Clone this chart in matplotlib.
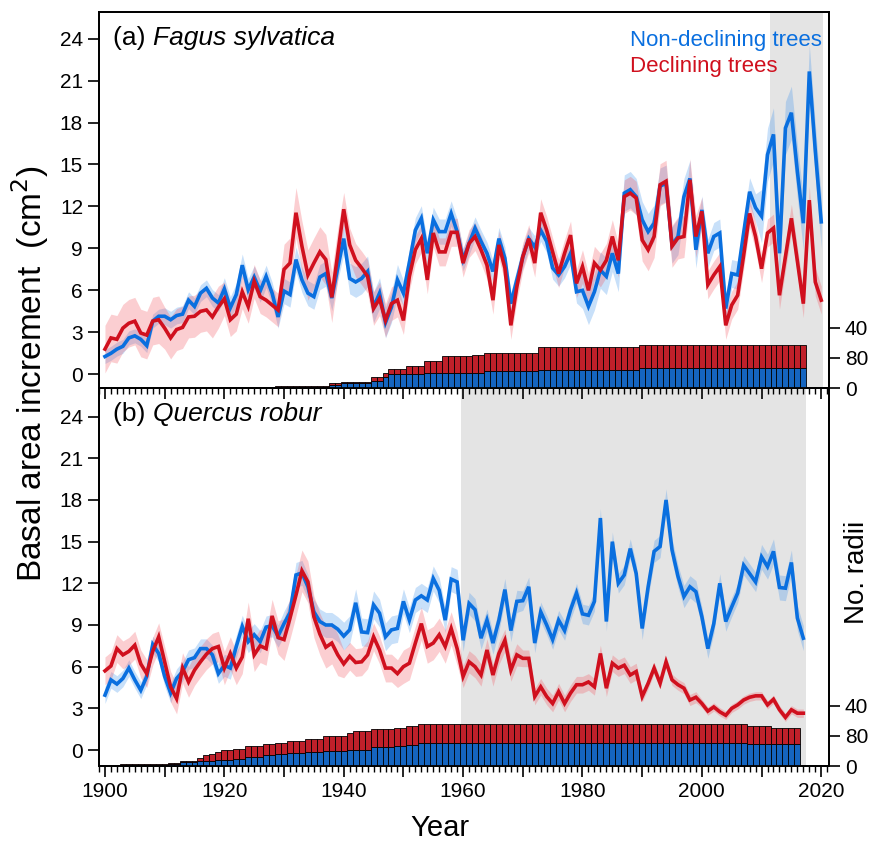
import numpy as np
import matplotlib
matplotlib.use("Agg")
import matplotlib.pyplot as plt
from matplotlib.ticker import MultipleLocator, FuncFormatter

plt.rcParams["font.family"] = ["Liberation Sans", "DejaVu Sans"]

# ---- Fagus sylvatica (1900-2020) ----
fs_years = np.arange(1900, 2021)
fs_nd = [1.27, 1.5, 1.8, 2.0, 2.6, 2.75, 2.5, 2.05, 3.8, 4.15,
         4.15, 3.9, 4.2, 4.3, 5.3, 4.85, 5.8, 6.15, 5.45, 5.1,
         6.1, 4.75, 5.7, 7.8, 6.05, 6.95, 5.95, 7.0, 5.8, 4.1,
         5.95, 5.7, 8.2, 6.75, 5.8, 5.55, 6.95, 7.2, 5.45, 7.6,
         9.7, 6.85, 6.6, 6.85, 7.35, 4.8, 5.8, 3.7, 4.8, 6.75,
         5.8, 8.0, 10.3, 11.15, 8.65, 11.05, 10.2, 10.2, 11.5, 10.2,
         8.2, 9.35, 10.45, 9.5, 8.65, 7.35, 9.7, 8.3, 5.05, 6.75,
         8.4, 9.7, 9.1, 10.3, 9.5, 7.6, 7.1, 7.7, 8.65, 5.9,
         6.0, 4.85, 5.9, 7.45, 7.0, 8.65, 7.2, 12.95, 13.2, 12.7,
         11.05, 10.2, 10.8, 13.45, 13.65, 9.25, 9.85, 12.7, 14.0, 8.9,
         11.75, 8.65, 9.85, 10.1, 4.7, 7.2, 7.1, 10.1, 13.05, 11.9,
         11.3, 15.7, 17.15, 8.65, 17.6, 18.7, 14.5, 10.8, 21.65, 16.0, 10.9]
fs_d = [1.8, 2.6, 2.5, 3.3, 3.65, 3.8, 2.95, 2.8, 3.8, 3.9,
        3.3, 2.6, 3.2, 3.35, 4.1, 4.15, 4.5, 4.6, 4.1, 4.8,
        5.4, 3.9, 4.3, 5.9, 4.85, 6.65, 5.55, 5.3, 4.95, 4.6,
        7.5, 7.95, 11.55, 9.15, 7.1, 7.95, 8.75, 8.2, 5.5, 8.6,
        11.8, 9.25, 8.15, 7.6, 7.0, 4.7, 5.4, 3.85, 5.05, 5.3,
        3.85, 7.0, 8.9, 9.7, 6.75, 10.1, 8.75, 8.75, 10.15, 10.15,
        7.95, 9.35, 9.85, 8.9, 7.8, 5.3, 9.25, 7.6, 3.5, 6.25,
        8.4, 9.7, 7.95, 11.55, 10.3, 8.75, 7.2, 8.65, 9.95, 6.5,
        7.7, 6.0, 7.95, 7.45, 8.15, 9.85, 8.15, 12.7, 12.95, 12.6,
        9.6, 8.9, 9.85, 13.55, 13.8, 9.15, 9.75, 9.85, 13.9, 9.85,
        11.65, 6.4, 7.1, 7.7, 3.5, 4.95, 5.65, 8.5, 11.5, 9.85,
        7.55, 10.1, 10.45, 5.65, 8.4, 11.15, 8.1, 5.05, 12.45, 6.6, 5.3]
# half-width of the shaded bands, per decade
fs_nd_hw = [0.5, 0.6, 0.8, 0.9, 1.1, 0.9, 0.8, 0.8, 1.3, 1.3, 1.0, 1.9, 1.9]
fs_d_hw = [1.7, 1.5, 1.2, 1.8, 1.2, 1.0, 1.0, 1.0, 1.2, 1.5, 1.0, 1.0, 1.0]
# sample depth (no. radii), step segments
fs_seg_start = [1929, 1938, 1940, 1945, 1947, 1948, 1951, 1954, 1957, 1962, 1964, 1973, 1990]
fs_seg_nd = [2, 8, 12, 19, 30, 36, 36, 39, 41, 41, 46, 48, 53]
fs_seg_d = [4, 4, 4, 10, 9, 14, 23, 34, 44, 48, 48, 62, 62]
fs_seg_last = 2017

# ---- Quercus robur (1900-2017) ----
qr_years = np.arange(1900, 2018)
qr_nd = [3.95, 5.05, 4.75, 5.15, 5.9, 5.05, 4.3, 5.3, 7.6, 6.95,
         5.3, 4.1, 5.15, 5.65, 6.5, 6.65, 7.3, 7.3, 6.85, 5.5,
         6.1, 5.9, 7.45, 8.9, 7.8, 8.3, 7.8, 8.85, 8.95, 8.2,
         9.1, 9.9, 12.6, 12.75, 11.75, 9.95, 9.25, 9.0, 9.0, 8.7,
         8.2, 8.65, 10.6, 8.5, 8.45, 10.45, 9.85, 8.15, 8.65, 8.75,
         10.7, 9.35, 10.8, 11.1, 10.8, 12.35, 11.5, 9.35, 12.3, 12.1,
         7.9, 10.55, 10.1, 8.05, 9.35, 7.7, 9.35, 11.55, 8.6, 10.7,
         10.75, 11.75, 7.7, 9.95, 9.0, 7.95, 9.35, 8.6, 10.1, 11.3,
         9.8, 9.7, 10.7, 16.7, 9.25, 15.0, 12.0, 12.6, 14.5, 12.7,
         8.75, 11.75, 14.3, 14.65, 18.0, 14.4, 12.5, 11.05, 11.75, 11.4,
         9.6, 7.3, 9.1, 12.0, 9.25, 10.3, 11.3, 13.3, 12.7, 12.1,
         13.9, 13.2, 14.3, 11.7, 11.65, 13.5, 9.5, 8.05]
qr_d = [5.7, 6.05, 7.3, 6.85, 7.1, 7.55, 6.2, 5.5, 7.1, 8.15,
        6.35, 4.55, 3.7, 5.9, 4.9, 5.75, 6.35, 6.9, 7.3, 7.45,
        5.9, 6.95, 5.9, 6.7, 9.45, 6.85, 7.5, 7.3, 9.65, 8.1,
        7.95, 9.5, 11.15, 12.9, 12.1, 9.6, 8.35, 7.4, 7.7, 6.85,
        6.2, 6.75, 6.3, 6.35, 6.85, 8.15, 7.2, 5.9, 5.9, 5.5,
        6.0, 6.25, 7.7, 9.1, 7.45, 7.7, 8.3, 7.45, 8.75, 7.3,
        5.3, 6.35, 6.0, 5.4, 7.2, 5.4, 6.95, 7.9, 5.75, 6.85,
        6.6, 6.6, 3.85, 4.55, 3.85, 3.35, 4.2, 3.35, 4.1, 4.7,
        4.7, 4.9, 4.55, 6.95, 4.45, 6.25, 5.9, 6.1, 5.4, 5.65,
        3.85, 4.8, 5.9, 4.8, 6.35, 5.05, 4.7, 4.45, 3.6, 3.8,
        3.35, 2.8, 3.1, 2.75, 2.5, 3.0, 3.25, 3.6, 3.8, 3.9,
        3.9, 3.25, 3.65, 2.9, 2.35, 2.9, 2.65, 2.65]
qr_nd_hw = [0.6, 0.7, 0.8, 0.9, 1.0, 0.9, 0.8, 0.7, 0.7, 0.8, 0.7, 0.9]
qr_d_hw = [1.0, 1.1, 1.2, 1.5, 1.0, 1.2, 0.8, 0.6, 0.6, 0.4, 0.3, 0.3]
qr_seg_start = [1903, 1911, 1913, 1916, 1917, 1918, 1919, 1920, 1922, 1924, 1927, 1929,
                1931, 1934, 1937, 1941, 1942, 1945, 1949, 1951, 1953, 2008, 2012]
qr_seg_nd = [2, 5, 10, 12, 13, 14, 15, 16, 18, 24, 28, 31, 34, 37, 40, 42, 42, 51, 52, 55, 61, 57, 57]
qr_seg_d = [3, 3, 3, 8, 15, 19, 21, 26, 28, 28, 30, 31, 32, 35, 39, 45, 50, 46, 48, 50, 49, 48, 43]
qr_seg_last = 2016

C_ND = "#0a6fdf"
C_D = "#d0101e"
C_ND_BAND = "#3a90ec"
C_D_BAND = "#f4505a"
C_ND_BAR = "#1565c0"
C_D_BAR = "#c0202a"
C_SHADE = "#e4e4e4"


def expand_segments(starts, last, values):
    lengths = np.diff(list(starts) + [last + 1])
    yrs = np.arange(starts[0], last + 1)
    return yrs, np.repeat(values, lengths)


def draw_panel(ax, ax2, years, nd, d, nd_hw, d_hw, seg_start, seg_last, seg_nd, seg_d,
               shade, tag, species, ylim):
    nd = np.array(nd)
    d = np.array(d)
    nhw = np.repeat(nd_hw, 10)[:len(years)]
    dhw = np.repeat(d_hw, 10)[:len(years)]

    ax.axvspan(shade[0], shade[1], color=C_SHADE, lw=0, zorder=0)
    ax.fill_between(years, nd - nhw, nd + nhw, color=C_ND_BAND, alpha=0.28, lw=0, zorder=1)
    ax.fill_between(years, d - dhw, d + dhw, color=C_D_BAND, alpha=0.28, lw=0, zorder=1)
    ax.plot(years, nd, color=C_ND, lw=2.6, zorder=3, solid_joinstyle="miter")
    ax.plot(years, d, color=C_D, lw=2.6, zorder=4, solid_joinstyle="miter")

    byears, bnd = expand_segments(seg_start, seg_last, seg_nd)
    _, bd = expand_segments(seg_start, seg_last, seg_d)
    ax2.bar(byears, bnd, width=1.0, color=C_ND_BAR, edgecolor="black", linewidth=0.6)
    ax2.bar(byears, bd, bottom=bnd, width=1.0, color=C_D_BAR, edgecolor="black", linewidth=0.6)
    ax2.set_ylim(0, 1000)
    ax2.set_yticks([0, 80, 160])
    ax2.set_yticklabels(["0", "80", "40"])

    ax.set_xlim(1899, 2021.3)
    ax.set_ylim(*ylim)
    ax.set_yticks(np.arange(0, 25, 3))
    ax.xaxis.set_major_locator(MultipleLocator(10))
    ax.xaxis.set_minor_locator(MultipleLocator(1))

    t = ax.text(0.019, 0.93, "(%s) " % tag, transform=ax.transAxes, fontsize=19,
                va="center", ha="left")
    ax.annotate(species, xy=(1, 0), xycoords=t, fontsize=19, style="italic",
                va="bottom", ha="left")

    for a in (ax, ax2):
        for s in a.spines.values():
            s.set_linewidth(1.3)
    ax.tick_params(axis="both", which="major", direction="out", length=8, width=1.2,
                   labelsize=15, right=False, top=False)
    ax.tick_params(axis="x", which="minor", direction="out", length=4, width=1.0, top=False)
    ax2.tick_params(axis="y", direction="out", length=8, width=1.2, labelsize=15)


fig = plt.figure(figsize=(8.75, 8.43), dpi=100)
L, W = 99 / 875, 730 / 875
ax_b = fig.add_axes([L, 1 - 766 / 843, W, 378 / 843])
ax_b2 = ax_b.twinx()
ax_t = fig.add_axes([L, 1 - 388 / 843, W, 376 / 843])
ax_t2 = ax_t.twinx()
ax_b.set_zorder(1)
ax_b2.set_zorder(1.5)
ax_t.set_zorder(2)
ax_t2.set_zorder(2.5)
ax_t.patch.set_visible(False)

draw_panel(ax_t, ax_t2, fs_years, fs_nd, fs_d, fs_nd_hw, fs_d_hw, fs_seg_start,
           fs_seg_last, fs_seg_nd, fs_seg_d, (2011.4, 2020.3), "a", "Fagus sylvatica",
           (-0.98, 25.9))
draw_panel(ax_b, ax_b2, qr_years, qr_nd, qr_d, qr_nd_hw, qr_d_hw, qr_seg_start,
           qr_seg_last, qr_seg_nd, qr_seg_d, (1959.6, 2017.4), "b", "Quercus robur",
           (-1.15, 26.06))

ax_t.xaxis.set_major_formatter(FuncFormatter(lambda v, p: ""))
ax_b.xaxis.set_major_formatter(
    FuncFormatter(lambda v, p: "%d" % v if int(round(v)) % 20 == 0 else ""))

ax_t.text(0.727, 0.925, "Non-declining trees", transform=ax_t.transAxes, color=C_ND,
          fontsize=16, va="center", ha="left", zorder=6)
ax_t.text(0.727, 0.856, "Declining trees", transform=ax_t.transAxes, color=C_D,
          fontsize=16, va="center", ha="left", zorder=6)

fig.text(30 / 875, 1 - 374 / 843, "Basal area increment  (cm$^2$)", rotation=90,
         fontsize=24, ha="center", va="center")
fig.text(857 / 875, 1 - 572 / 843, "No. radii", rotation=90, fontsize=20,
         ha="center", va="center")
fig.text(440 / 875, 1 - 828 / 843, "Year", fontsize=21, ha="center", va="center")

fig.savefig("out.png", dpi=100)
